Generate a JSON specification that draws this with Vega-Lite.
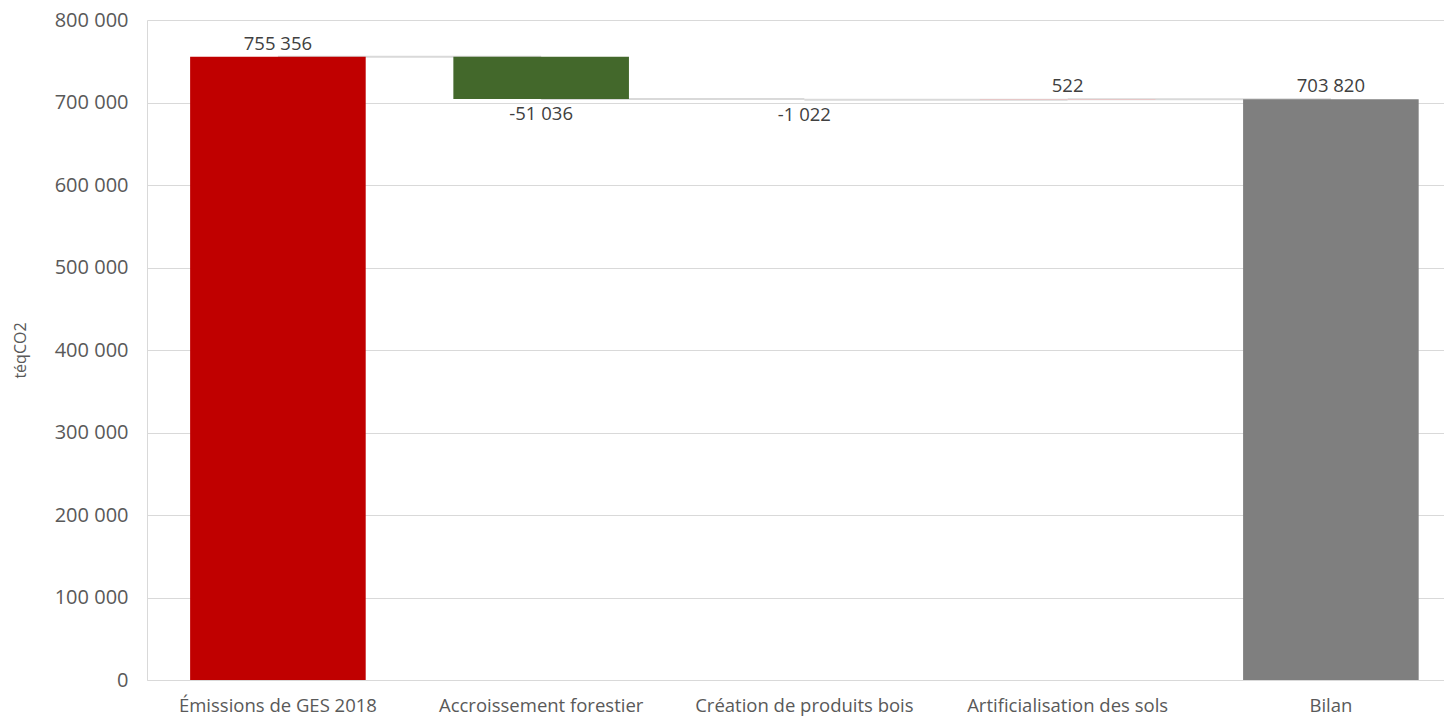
{
  "$schema": "https://vega.github.io/schema/vega-lite/v6.json",
  "width": 1444,
  "height": 723,
  "autosize": {"type": "fit", "contains": "padding"},
  "padding": {"left": 12, "top": 10, "right": 0, "bottom": 8},
  "background": "white",
  "config": {
    "locale": {"number": {"decimal": ",", "thousands": " ", "grouping": [3], "currency": ["", " €"], "minus": "-"}},
    "font": "Open Sans",
    "view": {"stroke": null},
    "axis": {"labelFont": "Open Sans", "labelFontSize": 18.5, "labelColor": "#595959", "titleFont": "Open Sans", "titleColor": "#595959", "titleFontWeight": "normal", "titleFontSize": 16, "labelOverlap": false, "labelLimit": 0}
  },
  "data": {
    "values": [
      {"category": "Émissions de GES 2018", "next": "Accroissement forestier", "start": 0, "end": 755356, "amount": 755356},
      {"category": "Accroissement forestier", "next": "Création de produits bois", "start": 755356, "end": 704320, "amount": -51036},
      {"category": "Création de produits bois", "next": "Artificialisation des sols", "start": 704320, "end": 703298, "amount": -1022},
      {"category": "Artificialisation des sols", "next": "Bilan", "start": 703298, "end": 703820, "amount": 522},
      {"category": "Bilan", "next": null, "start": 0, "end": 703820, "amount": 703820}
    ]
  },
  "encoding": {
    "x": {
      "field": "category", "type": "nominal", "sort": null,
      "scale": {"paddingInner": 0.333, "paddingOuter": 0.13, "align": 0.63},
      "axis": {"title": null, "labelAngle": 0, "ticks": false, "domainColor": "#D9D9D9", "labelPadding": 16}
    }
  },
  "layer": [
    {
      "mark": {"type": "rule", "color": "#D9D9D9", "strokeWidth": 2},
      "transform": [{"filter": "datum.next != null"}],
      "encoding": {
        "x2": {"field": "next"},
        "y": {"field": "end", "type": "quantitative"}
      }
    },
    {
      "mark": {"type": "bar"},
      "encoding": {
        "y": {
          "field": "start", "type": "quantitative",
          "scale": {"domain": [0, 800000], "nice": false},
          "axis": {"title": "téqCO2", "format": ",d", "values": [0,100000,200000,300000,400000,500000,600000,700000,800000], "ticks": false, "domain": true, "domainColor": "#D9D9D9", "gridColor": "#D9D9D9", "labelFontSize": 20, "labelPadding": 19, "titlePadding": 26}
        },
        "y2": {"field": "end"},
        "color": {
          "field": "category", "type": "nominal", "legend": null,
          "scale": {
            "domain": ["Émissions de GES 2018", "Accroissement forestier", "Création de produits bois", "Artificialisation des sols", "Bilan"],
            "range": ["#C00000", "#43682B", "#DADADA", "#F4B6B6", "#7F7F7F"]
          }
        }
      }
    },
    {
      "mark": {"type": "text", "baseline": "bottom", "dy": -3, "fontSize": 18.5, "color": "#404040"},
      "transform": [{"filter": "datum.amount >= 0"}],
      "encoding": {
        "y": {"field": "end", "type": "quantitative"},
        "text": {"field": "amount", "type": "quantitative", "format": ",d"}
      }
    },
    {
      "mark": {"type": "text", "baseline": "top", "dy": 6, "fontSize": 18.5, "color": "#404040"},
      "transform": [{"filter": "datum.amount < 0"}],
      "encoding": {
        "y": {"field": "end", "type": "quantitative"},
        "text": {"field": "amount", "type": "quantitative", "format": ",d"}
      }
    }
  ]
}
